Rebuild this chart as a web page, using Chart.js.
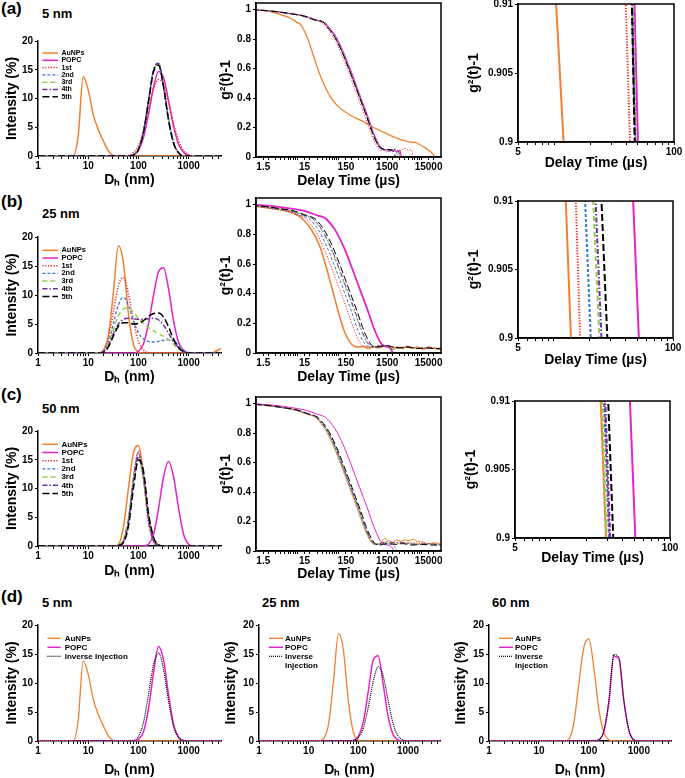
<!DOCTYPE html>
<html>
<head>
<meta charset="utf-8">
<script src="https://cdn.jsdelivr.net/npm/chart.js@4.4.1/dist/chart.umd.min.js"></script>
<style>
html, body { margin: 0; padding: 0; background: #fff; }
#fig { position: relative; width: 685px; height: 778px; overflow: hidden; font-family: 'Liberation Sans', Arial, Helvetica, sans-serif; }
.lbl { position: absolute; font-weight: bold; line-height: 1; white-space: nowrap; color: #000; }
canvas { position: absolute; }
</style>
</head>
<body>
<div id="fig">
  <div class="lbl" style="left:1px;top:0px;font-size:17px">(a)</div>
  <div class="lbl" style="left:42px;top:6.5px;font-size:13px">5 nm</div>
  <div class="lbl" style="left:1px;top:193px;font-size:17px">(b)</div>
  <div class="lbl" style="left:42px;top:206.5px;font-size:13px">25 nm</div>
  <div class="lbl" style="left:1px;top:386px;font-size:17px">(c)</div>
  <div class="lbl" style="left:42px;top:401.5px;font-size:13px">50 nm</div>
  <div class="lbl" style="left:1px;top:588px;font-size:17px">(d)</div>
  <div class="lbl" style="left:42px;top:596px;font-size:13px">5 nm</div>
  <div class="lbl" style="left:262px;top:596px;font-size:13px">25 nm</div>
  <div class="lbl" style="left:492px;top:596px;font-size:13px">60 nm</div>
</div>
<script>
// size bins (nm), shared by every intensity distribution
const dhBins = [1, 1.26, 1.58, 2, 2.51, 3.16, 3.98, 5.01, 6.31, 7.94,
  10, 12.6, 15.8, 20, 25.1, 31.6, 39.8, 50.1, 63.1, 79.4,
  100, 126, 158, 200, 251, 316, 398, 501, 631, 794,
  1000, 1259, 1585, 1995, 2512, 3162, 3981, 5012];

// (a) 5 nm - intensity (%)
const a_AuNPs = [0,0,0,0,0,0,0,0,3.5,13.8, 11.5,7.2,4.6,2.6,0.9,0.1,0,0,0,0, 0,0,0,0,0,0,0,0,0,0, 0,0,0,0,0,0,0,0];
const a_POPC  = [0,0,0,0,0,0,0,0,0,0, 0,0,0,0,0,0,0,0,0,0.2, 1.0,3.2,7.2,12.0,14.7,13.6,9.6,5.2,2.0,0.6, 0.1,0,0,0,0,0,0,0];
const a_1st   = [0,0,0,0,0,0,0,0,0,0, 0,0,0,0,0,0,0,0,0.15,0.6, 1.8,4.3,8.1,11.7,13.3,12.4,9.3,5.6,2.6,0.9, 0.25,0,0,0,0,0,0,0];
const a_2nd   = [0,0,0,0,0,0,0,0,0,0, 0,0,0,0,0,0,0,0,0,0.2, 1.2,4.3,9.6,15.0,16.2,12.2,6.4,2.3,0.6,0, 0,0,0,0,0,0,0,0];
const a_3rd   = [0,0,0,0,0,0,0,0,0,0, 0,0,0,0,0,0,0,0,0,0.2, 1.2,4.2,9.5,14.8,16.0,12.1,6.3,2.3,0.6,0, 0,0,0,0,0,0,0,0];
const a_4th   = [0,0,0,0,0,0,0,0,0,0, 0,0,0,0,0,0,0,0,0,0.2, 1.2,4.2,9.5,14.9,16.1,12.1,6.3,2.3,0.6,0, 0,0,0,0,0,0,0,0];
const a_5th   = [0,0,0,0,0,0,0,0,0,0, 0,0,0,0,0,0,0,0,0,0.15, 1.1,4.1,9.4,14.7,15.8,12.0,6.2,2.2,0.5,0, 0,0,0,0,0,0,0,0];

// (b) 25 nm
const b_AuNPs = [0,0,0,0,0,0,0,0,0,0, 0,0,0,0.4,2.9,10.3,18.5,15.6,6.8,1.5, 0.16,0,0,0,0,0,0,0,0,0, 0,0,0,0,0,0.1,0.6,1.0];
const b_POPC  = [0,0,0,0,0,0,0,0,0,0, 0,0,0,0,0,0,0,0,0,0, 0.3,1.6,5.0,10.0,14.0,14.7,11.0,5.5,1.8,0.4, 0,0,0,0,0,0,0,0];
const b_1st   = [0,0,0,0,0,0,0,0,0,0, 0,0,0,0.5,2.6,7.0,11.6,13.0,10.2,5.5, 2.0,0.5,0.1,0,0,0,0,0,0,0, 0,0,0,0,0,0,0,0];
const b_2nd   = [0,0,0,0,0,0,0,0,0,0, 0,0,0,0.3,1.8,5.0,8.3,9.6,8.2,5.6, 3.5,2.4,2.0,1.9,2.0,2.2,2.3,2.1,1.3,0.5, 0.1,0,0,0,0,0,0,0];
const b_3rd   = [0,0,0,0,0,0,0,0,0,0, 0,0,0,0.2,1.5,4.0,6.4,7.6,7.8,7.0, 6.0,5.1,4.4,3.8,3.3,2.9,2.3,1.5,0.7,0.2, 0,0,0,0,0,0,0,0];
const b_4th   = [0,0,0,0,0,0,0,0,0,0, 0,0,0,0.2,1.2,3.3,5.0,5.8,6.0,5.9, 5.8,5.8,5.9,6.0,5.7,4.8,3.4,2.0,0.9,0.3, 0,0,0,0,0,0,0,0];
const b_5th   = [0,0,0,0,0,0,0,0,0,0, 0,0,0,0.1,1.0,2.9,4.6,5.2,5.2,5.0, 5.1,5.6,6.3,6.8,6.9,6.2,4.5,2.4,0.9,0.2, 0,0,0,0,0,0,0,0];

// (c) 50 nm
const c_AuNPs = [0,0,0,0,0,0,0,0,0,0, 0,0,0,0,0,0,0.3,3.2,10.0,16.2, 17.5,12.5,5.5,1.4,0.2,0,0,0,0,0, 0,0,0,0,0,0,0,0];
const c_POPC  = [0,0,0,0,0,0,0,0,0,0, 0,0,0,0,0,0,0,0,0,0, 0,0,0.3,2.0,6.5,12.0,14.7,12.0,6.5,2.0, 0.3,0,0,0,0,0,0,0];
const c_1st   = [0,0,0,0,0,0,0,0,0,0, 0,0,0,0,0,0,0.1,0.7,4.1,11.7, 16.5,11.7,4.1,0.7,0.1,0,0,0,0,0, 0,0,0,0,0,0,0,0];
const c_2nd   = [0,0,0,0,0,0,0,0,0,0, 0,0,0,0,0,0,0.1,0.7,4.0,11.5, 16.2,11.8,4.4,0.8,0.1,0,0,0,0,0, 0,0,0,0,0,0,0,0];
const c_3rd   = [0,0,0,0,0,0,0,0,0,0, 0,0,0,0,0,0,0.2,1.2,5.0,11.5, 15.0,11.5,5.0,1.2,0.2,0,0,0,0,0, 0,0,0,0,0,0,0,0];
const c_4th   = [0,0,0,0,0,0,0,0,0,0, 0,0,0,0,0,0,0.1,0.8,4.3,11.3, 15.6,12.0,4.8,1.0,0.15,0,0,0,0,0, 0,0,0,0,0,0,0,0];
const c_5th   = [0,0,0,0,0,0,0,0,0,0, 0,0,0,0,0,0,0.1,0.6,3.4,10.0, 15.0,13.0,5.8,1.5,0.2,0,0,0,0,0, 0,0,0,0,0,0,0,0];

// (d) inverse injection
const d1_AuNPs = [0,0,0,0,0,0,0,0,3.5,13.8, 11.5,7.2,4.6,2.6,0.9,0.1,0,0,0,0, 0,0,0,0,0,0,0,0,0,0, 0,0,0,0,0,0,0,0];
const d1_POPC  = [0,0,0,0,0,0,0,0,0,0, 0,0,0,0,0,0,0,0,0,0, 0.3,1.6,5.5,11.8,16.3,14.0,8.0,2.8,0.6,0.05, 0,0,0,0,0,0,0,0];
const d1_inv   = [0,0,0,0,0,0,0,0,0,0, 0,0,0,0,0,0,0,0,0,0.1, 0.8,3.2,8.0,13.2,15.2,12.3,6.8,2.5,0.6,0.1, 0,0,0,0,0,0,0,0];
const d2_AuNPs = [0,0,0,0,0,0,0,0,0,0, 0,0,0,0.4,2.9,10.3,18.5,15.6,6.8,1.5, 0.16,0,0,0,0,0,0,0,0,0, 0,0,0,0,0,0,0,0];
const d2_POPC  = [0,0,0,0,0,0,0,0,0,0, 0,0,0,0,0,0,0,0,0,0.1, 0.8,3.3,8.5,14.0,14.7,9.8,4.2,1.1,0.2,0, 0,0,0,0,0,0,0,0];
const d2_inv   = [0,0,0,0,0,0,0,0,0,0, 0,0,0,0,0,0,0,0,0,0.1, 0.6,2.2,5.8,10.3,12.8,11.2,7.0,3.0,0.9,0.2, 0,0,0,0,0,0,0,0];
const d3_AuNPs = [0,0,0,0,0,0,0,0,0,0, 0,0,0,0,0,0,0.3,3.2,10.0,16.2, 17.6,12.5,5.5,1.4,0.2,0,0,0,0,0, 0,0,0,0,0,0,0,0];
const d3_POPC  = [0,0,0,0,0,0,0,0,0,0, 0,0,0,0,0,0,0,0,0,0, 0,0,0.2,1.7,6.7,14.6,14.2,6.9,1.8,0.2, 0,0,0,0,0,0,0,0];
const d3_inv   = [0,0,0,0,0,0,0,0,0,0, 0,0,0,0,0,0,0,0,0,0, 0,0,0.2,1.8,6.9,14.9,14.4,7.0,1.9,0.2, 0,0,0,0,0,0,0,0];

// correlograms: [delay time (µs), g2(t)-1]
const a2_AuNPs = [[1,1],[2,0.99],[4,0.965],[7,0.94],[10.4,0.91],[12,0.9],[18,0.8],[25,0.68],[35,0.56],[50,0.46],[70,0.39],[100,0.34],[200,0.28],[400,0.24],[700,0.2],[1000,0.18],[2000,0.14],[4000,0.11],[6000,0.1],[7500,0.098],[9000,0.085],[12000,0.065],[16000,0.04],[19000,0.02],[21000,0]];
const a2_POPC = [[0.794,1],[2.51,0.99],[6.31,0.975],[15.8,0.955],[28.2,0.93],[46.8,0.91],[50,0.9],[79.4,0.83],[126,0.72],[200,0.58],[316,0.43],[501,0.28],[708,0.16],[1000,0.07],[1259,0.05],[1700,0.04],[2100,0.05],[2600,0.035],[3000,0.045],[3300,0]];
const a2_1st = [[0.682,1],[2.16,0.99],[5.42,0.975],[13.6,0.955],[24.2,0.93],[39.6,0.91],[43,0.9],[68.2,0.83],[108,0.72],[171,0.58],[272,0.43],[431,0.28],[608,0.16],[859,0.07],[1081,0.045],[1500,0.045],[2200,0.05],[3000,0.04],[4000,0.06],[5000,0.045],[5800,0.05],[6200,0]];
const a2_2nd = [[0.755,1],[2.39,0.99],[6.0,0.975],[15.1,0.955],[26.8,0.93],[45.0,0.91],[47.6,0.9],[75.5,0.83],[120,0.72],[190,0.58],[301,0.43],[476,0.28],[673,0.16],[951,0.07],[1197,0.05],[1600,0.05],[2000,0.04],[2500,0.03],[2700,0]];
const a2_3rd = [[0.762,1],[2.41,0.99],[6.06,0.975],[15.2,0.955],[27.0,0.93],[45.5,0.91],[48.1,0.9],[76.2,0.83],[121,0.72],[192,0.58],[304,0.43],[481,0.28],[680,0.16],[961,0.07],[1209,0.05],[1600,0.045],[2200,0.05],[2800,0.03],[3000,0]];
const a2_4th = [[0.75,1],[2.37,0.99],[5.96,0.975],[15.0,0.955],[26.6,0.93],[44.7,0.91],[47.3,0.9],[75.0,0.83],[119,0.72],[189,0.58],[299,0.43],[473,0.28],[668,0.16],[944,0.07],[1189,0.05],[1700,0.05],[2300,0.055],[2900,0.03],[3200,0]];
const a2_5th = [[0.745,1],[2.35,0.99],[5.92,0.975],[14.9,0.955],[26.4,0.93],[44.5,0.91],[47.0,0.9],[74.5,0.83],[118,0.72],[187,0.58],[297,0.43],[470,0.28],[664,0.16],[938,0.075],[1180,0.055],[1500,0.05],[2000,0.045],[2400,0]];

const b2_AuNPs = [[0.3,1],[1,0.99],[2.5,0.975],[6,0.955],[10,0.93],[12.6,0.91],[13.9,0.9],[22,0.83],[35,0.72],[50,0.58],[70,0.43],[100,0.27],[140,0.14],[190,0.07],[240,0.045],[300,0.04],[400,0.045],[500,0.03],[700,0.04],[1000,0.035],[1300,0.05],[1600,0.04],[2000,0.025],[2600,0.04],[3500,0.03],[4500,0.045],[6000,0.03],[8000,0.04],[11000,0.025],[15000,0.04],[20000,0.03],[30000,0.025]];
const b2_POPC = [[0.818,1],[2.59,0.99],[6.5,0.975],[16.3,0.955],[29.0,0.93],[46.3,0.91],[51.7,0.9],[81.8,0.83],[130,0.72],[206,0.58],[326,0.43],[516,0.28],[729,0.16],[1030,0.07],[1297,0.045],[1600,0.04],[1900,0.02],[2000,0]];
const b2_1st = [[0.263,1],[0.832,0.99],[2.09,0.975],[5.25,0.955],[9.33,0.93],[15.3,0.91],[16.6,0.9],[26.3,0.83],[41.7,0.72],[66.1,0.58],[105,0.43],[166,0.28],[234,0.16],[331,0.07],[417,0.045],[600,0.04],[1000,0.05],[1500,0.045],[2200,0.035],[4000,0.04],[8000,0.03],[15000,0.035],[30000,0.03]];
const b2_2nd = [[0.324,1],[1.02,0.99],[2.57,0.975],[6.46,0.955],[11.5,0.93],[18.3,0.91],[20.4,0.9],[32.4,0.83],[51.3,0.72],[81.3,0.58],[129,0.43],[204,0.28],[288,0.16],[407,0.07],[513,0.045],[800,0.04],[1200,0.05],[1600,0.04],[1900,0.02],[2100,0]];
const b2_3rd = [[0.382,1],[1.21,0.99],[3.03,0.975],[7.62,0.955],[13.6,0.93],[21.4,0.91],[24.1,0.9],[38.2,0.83],[60.5,0.72],[95.9,0.58],[152,0.43],[241,0.28],[340,0.16],[481,0.07],[605,0.045],[900,0.04],[1300,0.05],[1800,0.04],[2500,0.03],[4000,0.035],[7000,0.03],[12000,0.035],[30000,0.03]];
const b2_4th = [[0.398,1],[1.26,0.99],[3.16,0.975],[7.94,0.955],[14.1,0.93],[22.4,0.91],[25.1,0.9],[39.8,0.83],[63.1,0.72],[100,0.58],[158,0.43],[251,0.28],[355,0.16],[501,0.07],[631,0.045],[900,0.04],[1400,0.05],[2000,0.045],[3000,0.035],[5000,0.04],[9000,0.03],[15000,0.035],[30000,0.03]];
const b2_5th = [[0.446,1],[1.41,0.99],[3.54,0.975],[8.89,0.955],[15.8,0.93],[25.1,0.91],[28.1,0.9],[44.6,0.83],[70.6,0.72],[112,0.58],[177,0.43],[281,0.28],[397,0.16],[561,0.07],[706,0.045],[1000,0.045],[1500,0.05],[2000,0.04],[3000,0.035],[5000,0.04],[8000,0.03],[12000,0.035],[20000,0.03],[30000,0.03]];

const c2_AuNPs = [[0.459,1],[1.45,0.99],[3.65,0.975],[9.16,0.955],[16.3,0.93],[26.2,0.91],[29,0.9],[45.9,0.83],[72.8,0.72],[115,0.58],[183,0.43],[290,0.28],[409,0.16],[578,0.07],[728,0.045],[1000,0.05],[1300,0.085],[1600,0.07],[2000,0.06],[2600,0.075],[3200,0.065],[4000,0.075],[5000,0.07],[6500,0.08],[8000,0.065],[11000,0.06],[15000,0.05],[20000,0.055],[30000,0.05]];
const c2_POPC = [[0.811,1],[2.56,0.99],[6.44,0.975],[16.2,0.955],[28.8,0.93],[46.1,0.91],[51.2,0.9],[81.1,0.83],[129,0.72],[204,0.58],[323,0.43],[512,0.28],[723,0.16],[1021,0.07],[1285,0.045],[1600,0.04],[2000,0.02],[2200,0]];
const c2_1st = [[0.491,1],[1.55,0.99],[3.9,0.975],[9.8,0.955],[17.4,0.93],[28.2,0.91],[31.0,0.9],[49.1,0.83],[77.8,0.72],[123,0.58],[195,0.43],[310,0.28],[437,0.16],[618,0.07],[778,0.045],[1000,0.045],[1500,0.055],[2200,0.05],[3000,0.06],[4500,0.05],[7000,0.055],[12000,0.045],[20000,0.05],[30000,0.04]];
const c2_2nd = [[0.488,1],[1.54,0.99],[3.87,0.975],[9.73,0.955],[17.3,0.93],[27.9,0.91],[30.8,0.9],[48.8,0.83],[77.3,0.72],[122,0.58],[194,0.43],[308,0.28],[434,0.16],[614,0.07],[773,0.045],[1000,0.04],[1500,0.05],[2000,0.04],[2400,0.02],[2600,0]];
const c2_3rd = [[0.465,1],[1.47,0.99],[3.7,0.975],[9.29,0.955],[16.5,0.93],[26.9,0.91],[29.4,0.9],[46.5,0.83],[73.8,0.72],[117,0.58],[185,0.43],[294,0.28],[415,0.16],[586,0.07],[738,0.045],[1000,0.05],[1500,0.06],[2000,0.055],[3000,0.05],[4500,0.06],[7000,0.05],[12000,0.045],[20000,0.05],[30000,0.045]];
const c2_4th = [[0.498,1],[1.57,0.99],[3.96,0.975],[9.94,0.955],[17.7,0.93],[28.6,0.91],[31.5,0.9],[49.9,0.83],[79.0,0.72],[125,0.58],[198,0.43],[315,0.28],[444,0.16],[628,0.07],[791,0.045],[1000,0.05],[1500,0.065],[2200,0.055],[3000,0.06],[5000,0.05],[8000,0.045],[14000,0.05],[30000,0.04]];
const c2_5th = [[0.53,1],[1.67,0.99],[4.21,0.975],[10.6,0.955],[18.8,0.93],[30.3,0.91],[33.4,0.9],[53.0,0.83],[83.9,0.72],[133,0.58],[211,0.43],[334,0.28],[472,0.16],[667,0.07],[839,0.045],[1100,0.045],[1600,0.05],[2300,0.045],[3500,0.05],[6000,0.04],[10000,0.045],[20000,0.04],[30000,0.04]];

// axis ticks
const sizeMajor = [1, 10, 100, 1000];
const sizeMinor = [2,3,4,5,6,7,8,9,20,30,40,50,60,70,80,90,200,300,400,500,600,700,800,900,2000,3000,4000];
const tauMajor = [1.5, 15, 150, 1500, 15000];
const tauMinor = [2,3,4,5,6,7,8,9,10,20,30,40,50,60,70,80,90,100,200,300,400,500,600,700,800,900,1000,2000,3000,4000,5000,6000,7000,8000,9000,10000,20000];
const zoomMajor = [5, 100];
const zoomMinor = [6,7,8,9,10,20,30,40,50,60,70,80,90];
const sizeYTicks = [0, 5, 10, 15, 20];
const gYTicks = [0, 0.2, 0.4, 0.6, 0.8, 1];
const zoomYTicks = [0.9, 0.905, 0.91];

const FONT = "'Liberation Sans', Arial, Helvetica, sans-serif";
const STY = {
  'AuNPs': { color: '#F28030', dash: [], order: 6 },
  'POPC': { color: '#E423C9', dash: [], order: 5 },
  '1st': { color: '#FF2424', dash: [1.2, 1.6], order: 4 },
  '2nd': { color: '#3A78D4', dash: [3, 2], order: 3 },
  '3rd': { color: '#92D050', dash: [5, 3], order: 2 },
  '4th': { color: '#7030A0', dash: [5, 2, 1.5, 2], order: 1 },
  '5th': { color: '#000000', dash: [7, 3], order: 0 },
  'Inverse Injection': { color: '#000000', dash: [1, 1], order: 0 }
};
const fig = document.getElementById('fig');

function ds(name, data, width, smooth) {
  const s = STY[name];
  return {
    label: name, data: data, borderColor: s.color, borderDash: s.dash, borderWidth: width,
    pointRadius: 0, pointHitRadius: 0, fill: false, tension: 0, order: s.order,
    cubicInterpolationMode: smooth ? 'monotone' : 'default'
  };
}

function legendPlugin(cfg) {
  return {
    id: 'insideLegend',
    afterDatasetsDraw(chart) {
      const ctx = chart.ctx, a = chart.chartArea;
      ctx.save();
      ctx.font = 'bold ' + cfg.size + 'px ' + FONT;
      ctx.textBaseline = 'middle';
      ctx.textAlign = 'left';
      let y = a.top + cfg.y0;
      chart.data.datasets.forEach((d, i) => {
        ctx.strokeStyle = d.borderColor;
        ctx.lineWidth = d.borderWidth;
        ctx.setLineDash(d.borderDash);
        ctx.beginPath();
        ctx.moveTo(a.left + cfg.x0, y);
        ctx.lineTo(a.left + cfg.x0 + cfg.len, y);
        ctx.stroke();
        ctx.fillStyle = '#000';
        const lines = (cfg.text && cfg.text[i]) || [d.label];
        lines.forEach(t => { ctx.fillText(t, a.left + cfg.x0 + cfg.len + cfg.gap, y); y += cfg.dy; });
      });
      ctx.restore();
    }
  };
}

const framePlugin = {
  id: 'frame',
  afterDatasetsDraw(chart) {
    const ctx = chart.ctx, a = chart.chartArea;
    ctx.save();
    ctx.strokeStyle = '#000';
    ctx.lineWidth = 1.5;
    ctx.setLineDash([]);
    ctx.strokeRect(a.left, a.top, a.right - a.left, a.bottom - a.top);
    ctx.restore();
  }
};

function panel(g, spec) {
  const cx = Math.floor(Math.min(g.l - 46, g.ytx - 16));
  const cy = Math.floor(g.t - 14);
  const cw = Math.ceil(g.r + 16) - cx;
  const ch = Math.ceil(g.xty + 11) - cy;
  const cv = document.createElement('canvas');
  cv.width = cw; cv.height = ch;
  cv.style.left = cx + 'px'; cv.style.top = cy + 'px';
  fig.appendChild(cv);

  const lh = 14 * 1.2;
  const yW = g.l - cx, xH = cy + ch - g.b;
  const xAll = spec.xMajor.concat(spec.xMinor).sort((p, q) => p - q);
  const tickFont = { family: FONT, size: 10, weight: 'bold' };
  const titleFont = { family: FONT, size: 14, weight: 'bold' };
  const grid = { drawOnChartArea: false, drawTicks: true, tickLength: 3, tickColor: '#000', tickWidth: 1 };

  const plugins = [];
  if (spec.frame) plugins.push(framePlugin);
  if (spec.legend) plugins.push(legendPlugin(spec.legend));

  new Chart(cv, {
    type: 'line',
    data: { labels: spec.labels, datasets: spec.datasets },
    options: {
      responsive: false, animation: false, events: [],
      layout: { padding: { top: g.t - cy, right: cx + cw - g.r, left: 0, bottom: 0 } },
      plugins: { legend: { display: false }, tooltip: { enabled: false } },
      scales: {
        x: {
          type: 'logarithmic', position: 'bottom', min: spec.xMin, max: spec.xMax,
          afterBuildTicks: ax => { ax.ticks = xAll.map(v => ({ value: v })); },
          afterFit: ax => { ax.height = xH; },
          ticks: { autoSkip: false, maxRotation: 0, padding: 1, color: '#000', font: tickFont,
            callback: v => spec.xMajor.includes(v) ? String(v) : '' },
          grid: grid,
          border: { color: '#000', width: 1.5 },
          title: { display: true, text: spec.xTitle, color: '#000', font: titleFont,
            padding: { top: 0, bottom: cy + ch - g.xty - lh / 2 } }
        },
        y: {
          type: 'linear', position: 'left', min: spec.yMin, max: spec.yMax,
          afterBuildTicks: ax => { ax.ticks = spec.yTicks.map(v => ({ value: v })); },
          afterFit: ax => { ax.width = yW; },
          ticks: { autoSkip: false, padding: 2, color: '#000', font: tickFont, callback: v => String(v) },
          grid: grid,
          border: { color: '#000', width: 1.5 },
          title: { display: true, text: spec.yTitle, color: '#000', font: titleFont,
            padding: { top: g.ytx - cx - lh / 2, bottom: 0 } }
        }
      }
    },
    plugins: plugins
  });
}

const DH = 'D\u2095 (nm)', INT = 'Intensity (%)', DT = 'Delay Time (\u00b5s)', G2 = 'g\u00b2(t)-1';
const names7 = ['AuNPs', 'POPC', '1st', '2nd', '3rd', '4th', '5th'];

function sizePanel(g, arrays, names, widths, legend) {
  panel(g, {
    labels: dhBins,
    datasets: names.map((n, i) => ds(n, arrays[i], widths[i], true)),
    xMin: 1, xMax: 4400, xMajor: sizeMajor, xMinor: sizeMinor, xTitle: DH,
    yMin: 0, yMax: 20, yTicks: sizeYTicks, yTitle: INT, legend: legend
  });
}
function corrPanel(g, arrays, widths) {
  panel(g, {
    datasets: names7.map((n, i) => ds(n, arrays[i].slice(), widths[i], true)),
    xMin: 1, xMax: 30000, xMajor: tauMajor, xMinor: tauMinor, xTitle: DT,
    yMin: 0, yMax: 1.045, yTicks: gYTicks, yTitle: G2, frame: true
  });
}
function zoomPanel(g, arrays) {
  panel(g, {
    datasets: names7.map((n, i) => ds(n, arrays[i].slice(), 2, false)),
    xMin: 5, xMax: 100, xMajor: zoomMajor, xMinor: zoomMinor, xTitle: DT,
    yMin: 0.9, yMax: 0.91, yTicks: zoomYTicks, yTitle: G2, frame: true
  });
}

const w7 = [1.5, 1.5, 1.5, 1.3, 1.5, 1.5, 1.5];
const legA = { x0: 4.4, len: 15.6, gap: 3.4, y0: 12, dy: 7.3, size: 7 };
const legB = { x0: 4.4, len: 15.6, gap: 3.4, y0: 13.3, dy: 7.7, size: 7.5 };
const legC = { x0: 4.4, len: 15.6, gap: 3.4, y0: 13.3, dy: 8.2, size: 8 };

const A2 = [a2_AuNPs, a2_POPC, a2_1st, a2_2nd, a2_3rd, a2_4th, a2_5th];
const B2 = [b2_AuNPs, b2_POPC, b2_1st, b2_2nd, b2_3rd, b2_4th, b2_5th];
const C2 = [c2_AuNPs, c2_POPC, c2_1st, c2_2nd, c2_3rd, c2_4th, c2_5th];

// row (a)
sizePanel({ l: 38, t: 41, r: 221, b: 156, ytx: 12.5, xty: 180 },
  [a_AuNPs, a_POPC, a_1st, a_2nd, a_3rd, a_4th, a_5th], names7, w7, legA);
corrPanel({ l: 256, t: 3, r: 441, b: 157, ytx: 226, xty: 181 }, A2, [1.3, 1.2, 1, 1, 1, 1, 1]);
zoomPanel({ l: 518, t: 4, r: 674, b: 142, ytx: 474, xty: 163 }, A2);

// row (b)
sizePanel({ l: 38, t: 237, r: 221, b: 353, ytx: 12.5, xty: 377 },
  [b_AuNPs, b_POPC, b_1st, b_2nd, b_3rd, b_4th, b_5th], names7, w7, legB);
corrPanel({ l: 256, t: 198, r: 441, b: 353, ytx: 226, xty: 377 }, B2, [1.6, 1.8, 1, 1, 1, 1, 1]);
zoomPanel({ l: 518, t: 201, r: 673, b: 338, ytx: 474, xty: 360 }, B2);

// row (c)
sizePanel({ l: 38, t: 431, r: 221, b: 546, ytx: 12.5, xty: 571 },
  [c_AuNPs, c_POPC, c_1st, c_2nd, c_3rd, c_4th, c_5th], names7, w7, legC);
corrPanel({ l: 256, t: 397, r: 441, b: 551, ytx: 226, xty: 574 }, C2, [1, 1, 1, 1, 1, 1, 1]);
zoomPanel({ l: 515, t: 401, r: 670, b: 538, ytx: 471, xty: 558 }, C2);

// row (d)
const names3 = ['AuNPs', 'POPC', 'Inverse Injection'];
const w3 = [1.3, 1.5, 1.2];
sizePanel({ l: 38, t: 625, r: 221, b: 741, ytx: 12.5, xty: 770 }, [d1_AuNPs, d1_POPC, d1_inv], names3, w3,
  { x0: 9.4, len: 13.3, gap: 4, y0: 13.3, dy: 9, size: 8 });
sizePanel({ l: 259, t: 625, r: 440, b: 741, ytx: 231, xty: 770 }, [d2_AuNPs, d2_POPC, d2_inv], names3, w3,
  { x0: 10, len: 14, gap: 2, y0: 13.3, dy: 9, size: 8, text: { 2: ['Inverse', 'Injection'] } });
sizePanel({ l: 489, t: 625, r: 671, b: 741, ytx: 461, xty: 770 }, [d3_AuNPs, d3_POPC, d3_inv], names3, w3,
  { x0: 10, len: 14, gap: 2, y0: 13.3, dy: 9, size: 8, text: { 2: ['Inverse', 'Injection'] } });
</script>
</body>
</html>
